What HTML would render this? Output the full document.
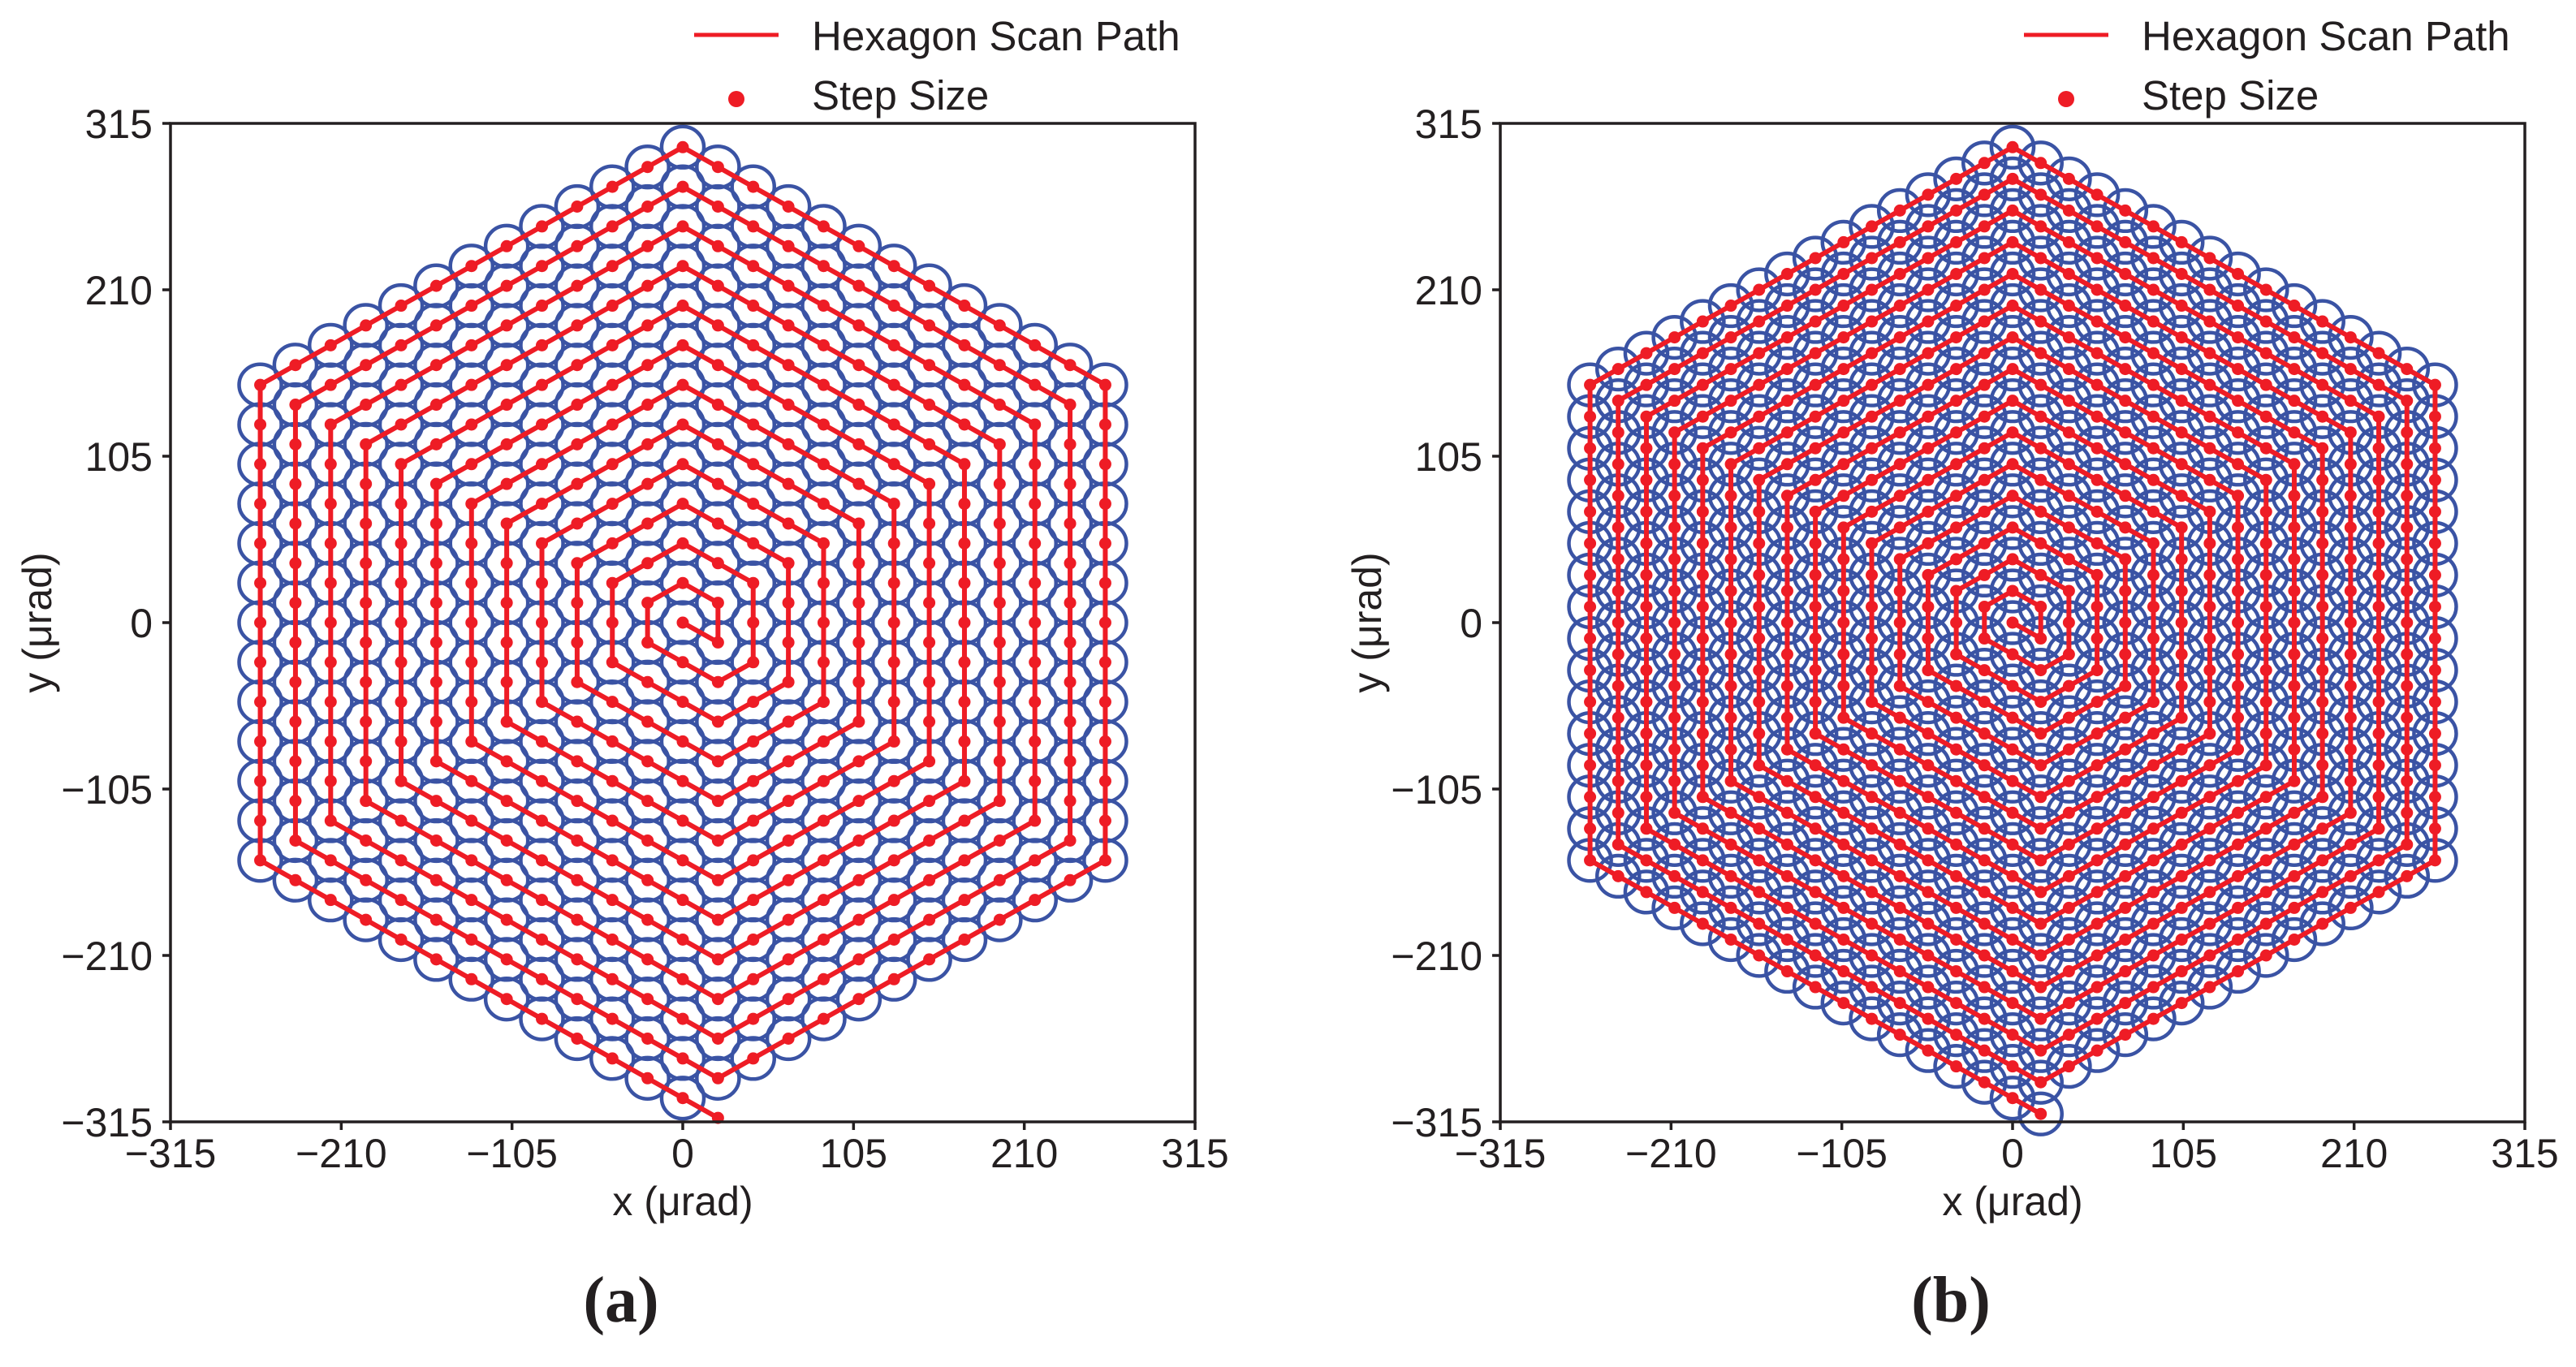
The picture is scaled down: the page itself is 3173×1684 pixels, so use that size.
<!DOCTYPE html>
<html><head><meta charset="utf-8"><style>
html,body{margin:0;padding:0;background:#fff;}
svg{display:block;font-family:"Liberation Sans",Arial,sans-serif;}
</style></head><body>
<svg id="fig" width="3173" height="1684" viewBox="0 0 3173 1684" xmlns="http://www.w3.org/2000/svg"></svg>
<script>
// ---- data ----
const panelLabels = ["(a)", "(b)"];
const ringCounts = [12, 15];          // hexagon rings per panel
const stepSizes = [25, 20];           // step size (µrad) per panel
const beamRadius = [13, 13];          // circle radius (µrad)
const circleAtLast = [false, true];
const tickValues = [-315, -210, -105, 0, 105, 210, 315];
const tickLabels = ["\u2212315", "\u2212210", "\u2212105", "0", "105", "210", "315"];
const legendLabels = ["Hexagon Scan Path", "Step Size"];

const NS = "http://www.w3.org/2000/svg";
const svg = document.getElementById("fig");
function mk(tag, attrs, parent) {
  const e = document.createElementNS(NS, tag);
  for (const k in attrs) e.setAttribute(k, attrs[k]);
  (parent || svg).appendChild(e);
  return e;
}
const RED = "#ee1c25", BLUE = "#3a53a4";
const panelLeft = [210, 1848];
const W = 1262, TOP = 152, BOT = 1382;

function spiralPath(N, d) {
  const s3 = Math.sqrt(3) / 2;
  const pts = [[0, 0]];
  for (let k = 1; k <= N; k++) {
    const V = [[0, -k * d], [s3 * k * d, -k * d / 2], [s3 * k * d, k * d / 2], [0, k * d], [-s3 * k * d, k * d / 2], [-s3 * k * d, -k * d / 2], [0, -k * d]];
    for (let e = 0; e < 6; e++) {
      const a = V[e], b = V[e + 1];
      for (let i = 1; i <= k; i++) {
        pts.push([a[0] + (b[0] - a[0]) * i / k, a[1] + (b[1] - a[1]) * i / k]);
      }
    }
  }
  pts.push([s3 * d, -N * d - d / 2]);
  return pts;
}

for (let p = 0; p < 2; p++) {
  const L = panelLeft[p];
  const xs = v => L + (v + 315) / 630 * W;
  const ys = v => BOT - (v + 315) / 630 * (BOT - TOP);
  const g = mk("g", {});
  
  
  const pts = spiralPath(ringCounts[p], stepSizes[p]);
  const rx = beamRadius[p] / 630 * W, ry = beamRadius[p] / 630 * (BOT - TOP);
  const cg = mk("g", {fill: "none", stroke: BLUE, "stroke-width": 4.5}, g);
  
  
  const nC = circleAtLast[p] ? pts.length : pts.length - 1;
  for (let i = 0; i < nC; i++) {
    const c = mk("ellipse", {cx: xs(pts[i][0]), cy: ys(pts[i][1]), rx: rx, ry: ry}, cg);
    
    
  }
  const path = mk("polyline", {points: pts.map(q => xs(q[0]) + "," + ys(q[1])).join(" "), fill: "none", stroke: RED, "stroke-width": 6, "stroke-linejoin": "round"}, g);
  
  
  const dg = mk("g", {fill: RED}, g);
  
  
  for (const q of pts) {
    const c = mk("circle", {cx: xs(q[0]), cy: ys(q[1]), r: 7.5}, dg);
    
    
  }
  const fr = mk("rect", {x: L, y: TOP, width: W, height: BOT - TOP, fill: "none", stroke: "#231f20", "stroke-width": 3.5}, g);
  
  
  for (let i = 0; i < tickValues.length; i++) {
    const v = tickValues[i];
    const tx = mk("line", {x1: xs(v), x2: xs(v), y1: BOT, y2: BOT + 10, stroke: "#231f20", "stroke-width": 3.5}, g);
    
    
    const lx = mk("text", {x: xs(v), y: 1438, "font-size": 50, "text-anchor": "middle", fill: "#231f20"}, g);
    lx.textContent = tickLabels[i];
    
    
    const ty = mk("line", {x1: L - 10, x2: L, y1: ys(v), y2: ys(v), stroke: "#231f20", "stroke-width": 3.5}, g);
    
    
    const ly = mk("text", {x: L - 22, y: ys(v) + 18, "font-size": 50, "text-anchor": "end", fill: "#231f20"}, g);
    ly.textContent = tickLabels[i];
    
    
  }
  const xl = mk("text", {x: L + W / 2, y: 1497, "font-size": 50, "text-anchor": "middle", fill: "#231f20"}, g);
  xl.textContent = "x (\u03bcrad)";
  
  
  const yl = mk("text", {x: 0, y: 0, "font-size": 50, "text-anchor": "middle", fill: "#231f20", transform: "translate(" + (L - 147) + "," + (TOP + BOT) / 2 + ") rotate(-90)"}, g);
  yl.textContent = "y (\u03bcrad)";
  
  
  const pl = mk("text", {x: L + W / 2 - 76, y: 1628, "font-size": 80, "font-weight": "bold", "text-anchor": "middle", fill: "#231f20", "font-family": "Liberation Serif, serif"}, g);
  pl.textContent = panelLabels[p];
  
  
  const off = L - 210;
  const lg = mk("g", {}, g);
  
  
  const ll = mk("line", {x1: 855 + off, x2: 959 + off, y1: 43, y2: 43, stroke: RED, "stroke-width": 5}, lg);
  
  
  const t1 = mk("text", {x: 1000 + off, y: 62, "font-size": 51, fill: "#231f20"}, lg);
  t1.textContent = legendLabels[0];
  
  
  const ld = mk("circle", {cx: 907 + off, cy: 122, r: 10, fill: RED}, lg);
  
  
  const t2 = mk("text", {x: 1000 + off, y: 135, "font-size": 51, fill: "#231f20"}, lg);
  t2.textContent = legendLabels[1];
  
  
}
</script>
</body></html>
